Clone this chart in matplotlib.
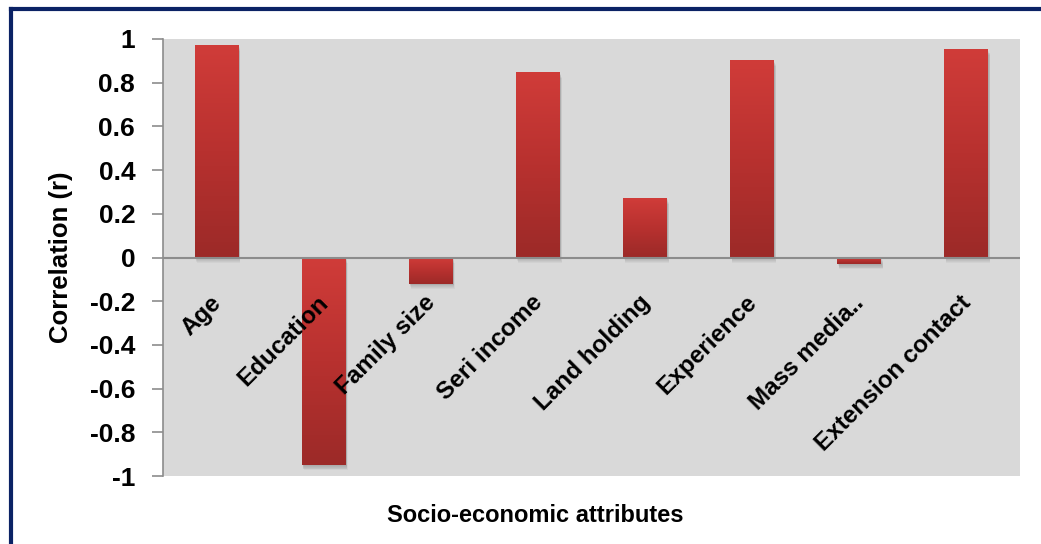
import numpy as np
import matplotlib
matplotlib.use("Agg")
import matplotlib.pyplot as plt
from matplotlib.colors import LinearSegmentedColormap
from matplotlib.lines import Line2D

# Correlation of socio-economic attributes
categories = ["Age", "Education", "Family size", "Seri income",
              "Land holding", "Experience", "Mass media..", "Extension contact"]
correlation = [0.97, -0.95, -0.12, 0.845, 0.27, 0.90, -0.03, 0.95]
yticks = [1, 0.8, 0.6, 0.4, 0.2, 0, -0.2, -0.4, -0.6, -0.8, -1]
ytick_labels = ["1", "0.8", "0.6", "0.4", "0.2", "0", "-0.2", "-0.4", "-0.6", "-0.8", "-1"]

plt.rcParams["font.family"] = ["Liberation Sans", "DejaVu Sans"]

W, H = 1041, 544
fig = plt.figure(figsize=(W / 100, H / 100), dpi=100)
ax = fig.add_axes([163 / W, 1 - 476 / H, (1020 - 163) / W, (476 - 39) / H])
ax.set_facecolor("#D9D9D9")

x = np.arange(len(categories))
bars = ax.bar(x, correlation, width=0.41, color="none", zorder=3)

grad_cmap = LinearSegmentedColormap.from_list("redgrad", ["#9C2A28", "#B8312F", "#D03C39"])
grad = np.linspace(0, 1, 256).reshape(-1, 1)
for b in bars:
    x0, y0 = b.get_x(), b.get_y()
    w, h = b.get_width(), b.get_height()
    lo, hi = min(y0, y0 + h), max(y0, y0 + h)
    # soft drop shadow
    for k in range(6):
        d = 0.004 + 0.004 * k
        ax.add_patch(plt.Rectangle((x0 + 0.008 + 0.002 * k, lo - d), w, hi - lo,
                                   facecolor="black", alpha=0.035, edgecolor="none",
                                   zorder=2))
    ax.imshow(grad, extent=[x0, x0 + w, lo, hi], origin="lower", aspect="auto",
              cmap=grad_cmap, zorder=3, interpolation="bicubic")

ax.set_xlim(-0.5, len(categories) - 0.5)
ax.set_ylim(-1, 1)
ax.axhline(0, color="#8C8C8C", lw=1.5, zorder=4)

for s in ["top", "right", "bottom"]:
    ax.spines[s].set_visible(False)
ax.spines["left"].set_color("#8C8C8C")
ax.spines["left"].set_linewidth(1.2)
ax.set_xticks([])
ax.set_yticks(yticks)
ax.set_yticklabels(ytick_labels, fontsize=19, fontweight="bold")
ax.tick_params(axis="y", length=8, width=1.2, color="#8C8C8C", pad=12)

# Category labels rotated at the zero line
for xi, name in zip(x, categories):
    ax.annotate(name, xy=(xi, 0), xytext=(1, -30), textcoords="offset points",
                rotation=45, rotation_mode="anchor", ha="right", va="center",
                fontsize=17.5, fontweight="bold", zorder=5)

fig.text(61 / W, 1 - 257 / H, "Correlation (r)", rotation=90, ha="center", va="center",
         fontsize=18.5, fontweight="bold")
fig.text(535 / W, 1 - 515 / H, "Socio-economic attributes", ha="center", va="center",
         fontsize=17, fontweight="bold")

# Frame lines along the top and left edges
navy = "#0B2265"
fig.add_artist(Line2D([10.5 / W, 1], [1 - 9 / H, 1 - 9 / H], color=navy, lw=3,
                      transform=fig.transFigure))
fig.add_artist(Line2D([10.5 / W, 10.5 / W], [0, 1 - 9 / H], color=navy, lw=3,
                      transform=fig.transFigure))

fig.savefig("out.png", dpi=100, facecolor="white")
